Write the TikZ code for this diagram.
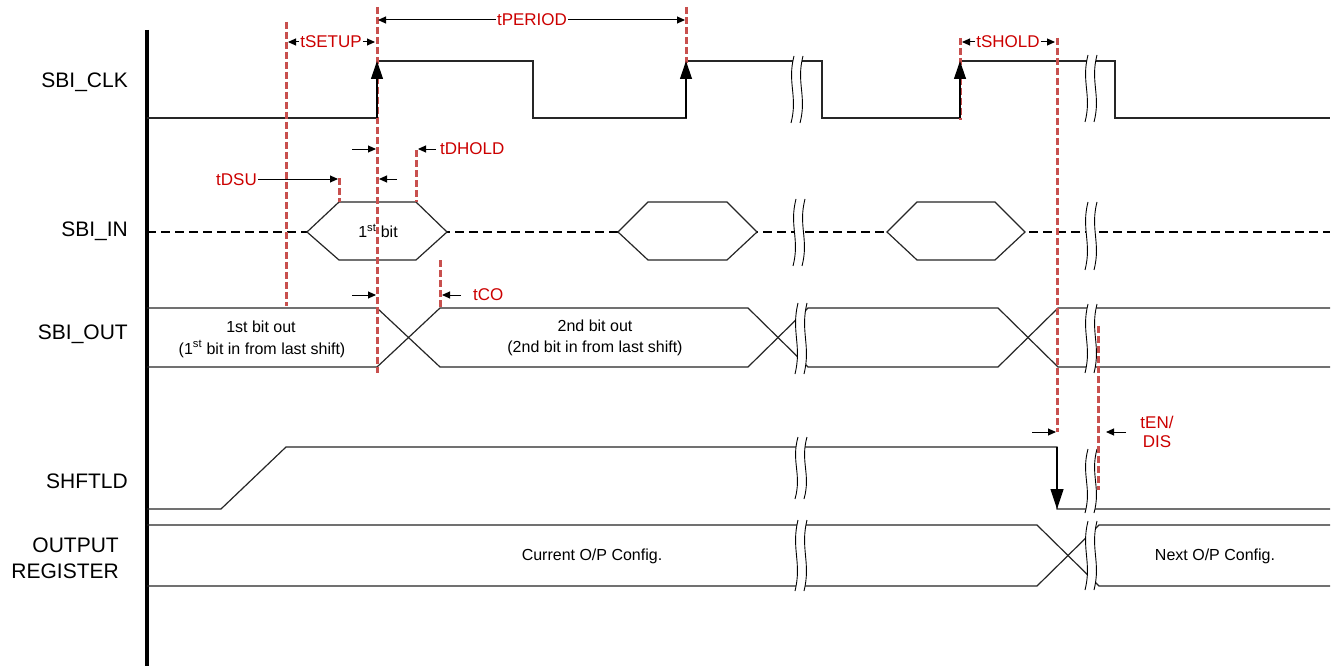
\documentclass[tikz,border=0pt]{standalone}
\usepackage{fontspec}
\setmainfont{Liberation Sans}
\usetikzlibrary{arrows.meta}
\definecolor{tred}{RGB}{204,0,0}
\definecolor{dred}{RGB}{200,80,78}
\newcommand{\mybreak}[3]{%
  \pgfmathsetmacro{\bh}{#3-#2}%
  \fill[white] ({#1+3},#2) .. controls ({#1-4},{#2+0.4*\bh}) and ({#1+7},{#2+0.6*\bh}) .. ({#1},#3) -- ({#1+9},#3) .. controls ({#1+16},{#2+0.6*\bh}) and ({#1+5},{#2+0.4*\bh}) .. ({#1+12},#2) -- cycle;
  \draw[line width=0.9pt] ({#1+3},#2) .. controls ({#1-4},{#2+0.4*\bh}) and ({#1+7},{#2+0.6*\bh}) .. ({#1},#3);
  \draw[line width=0.9pt] ({#1+12},#2) .. controls ({#1+5},{#2+0.4*\bh}) and ({#1+16},{#2+0.6*\bh}) .. ({#1+9},#3);
}
\begin{document}
\begin{tikzpicture}[x=1pt,y=-1pt,
  sig/.style={line width=1.2pt, draw=black!85},
  axisline/.style={line width=4pt},
  tline/.style={draw=dred, line width=3pt, dash pattern=on 7pt off 3pt},
  dim/.style={line width=1pt, -{Triangle[length=8pt,width=7pt]}},
  dimlbl/.style={text=tred, font=\fontsize{17}{20}\selectfont, inner sep=1pt},
  signame/.style={font=\fontsize{21}{26}\selectfont, anchor=east, inner sep=0pt},
  txt/.style={font=\fontsize{16}{19}\selectfont, inner sep=0pt},
  edgearrow/.style={line width=1.2pt, -{Triangle[length=18pt,width=12pt]}},
]
\useasboundingbox (0,0) rectangle (1335,666);
\fill[white] (0,0) rectangle (1335,666);

% axis
\draw[axisline] (147,30) -- (147,666);

% SBI_CLK
\draw[sig] (147,118) -- (377,118) -- (377,61) -- (533,61) -- (533,118) -- (686,118) -- (686,61) -- (822,61) -- (822,118) -- (960,118) -- (960,61) -- (1115,61) -- (1115,118) -- (1330,118);

% SBI_IN
\draw[line width=2.2pt, dash pattern=on 9pt off 5pt] (147,232) -- (1330,232);
\draw[sig, fill=white] (307,232) -- (339,202) -- (416,202) -- (447,232) -- (416,260) -- (339,260) -- cycle;
\draw[sig, fill=white] (618,232) -- (648,202) -- (727,202) -- (757,232) -- (727,260) -- (648,260) -- cycle;
\draw[sig, fill=white] (887,232) -- (917,202) -- (995,202) -- (1025,232) -- (995,260) -- (917,260) -- cycle;

% SBI_OUT
\draw[sig] (147,308) -- (377,308) -- (440,367) -- (748,367) -- (808,308) -- (998,308) -- (1058,367) -- (1330,367);
\draw[sig] (147,367) -- (377,367) -- (440,308) -- (748,308) -- (808,367) -- (998,367) -- (1058,308) -- (1330,308);

% SHFTLD
\draw[sig] (147,509) -- (221,509) -- (286,447) -- (1057,447) -- (1057,509) -- (1330,509);

% OUTPUT REGISTER
\draw[sig] (147,525) -- (1037,525) -- (1099,586) -- (1330,586);
\draw[sig] (147,586) -- (1037,586) -- (1099,525) -- (1330,525);

% breaks
\mybreak{791}{56}{123}
\mybreak{793}{199}{266}
\mybreak{795}{303}{374}
\mybreak{795}{437}{499}
\mybreak{795}{520}{591}
\mybreak{1085}{55}{122}
\mybreak{1085}{202}{270}
\mybreak{1085}{304}{373}
\mybreak{1085}{449}{513}
\mybreak{1085}{521}{590}

% timing reference lines
\draw[tline] (286,22) -- (286,306);
\draw[tline] (377,7) -- (377,373);
\draw[tline] (686,7) -- (686,63);
\draw[tline] (960,38) -- (960,120);
\draw[tline] (1057,38) -- (1057,432);
\draw[tline] (1098,326) -- (1098,490);
\draw[tline] (339,178) -- (339,202);
\draw[tline] (416,150) -- (416,202);
\draw[tline] (440,260) -- (440,308);

% clock edge arrows
\coordinate (e1a) at (377,118); \coordinate (e1b) at (377,61);
\coordinate (e2a) at (686,118); \coordinate (e2b) at (686,61);
\coordinate (e3a) at (960,118); \coordinate (e3b) at (960,61);
\draw[edgearrow] (e1a) -- (e1b);
\draw[edgearrow] (e2a) -- (e2b);
\draw[edgearrow] (e3a) -- (e3b);
\coordinate (s1a) at (1057,447); \coordinate (s1b) at (1057,509);
\draw[line width=1.2pt, -{Triangle[length=20pt,width=13pt]}] (s1a) -- (s1b);

% dimension labels
\node[dimlbl, fill=white] (tper) at (532,20) {tPERIOD};
\coordinate (tperL) at (378,20); \coordinate (tperR) at (685,20);
\draw[dim] (tper.west) -- (tperL);
\draw[dim] (tper.east) -- (tperR);
\node[dimlbl, fill=white] (tset) at (331,42) {tSETUP};
\coordinate (tsetL) at (288,42); \coordinate (tsetR) at (375,42);
\draw[dim] (tset.west) -- (tsetL);
\draw[dim] (tset.east) -- (tsetR);
\node[dimlbl, fill=white] (tsh) at (1008,42) {tSHOLD};
\coordinate (tshL) at (962,42); \coordinate (tshR) at (1055,42);
\draw[dim] (tsh.west) -- (tshL);
\draw[dim] (tsh.east) -- (tshR);

\coordinate (h1a) at (352,149); \coordinate (h1b) at (376,149);
\coordinate (h2a) at (436,149); \coordinate (h2b) at (418,149);
\draw[dim] (h1a) -- (h1b);
\draw[dim] (h2a) -- (h2b);
\node[dimlbl, anchor=west] (tdh) at (439,149) {tDHOLD};

\node[dimlbl, anchor=east] (tdsu) at (258,180) {tDSU};
\coordinate (dsuR) at (338,179);
\draw[dim] (tdsu.east |- dsuR) -- (dsuR);
\coordinate (d2a) at (397,179); \coordinate (d2b) at (379,179);
\draw[dim] (d2a) -- (d2b);

\coordinate (c1a) at (352,295); \coordinate (c1b) at (376,295);
\coordinate (c2a) at (461,295); \coordinate (c2b) at (442,295);
\draw[dim] (c1a) -- (c1b);
\draw[dim] (c2a) -- (c2b);
\node[dimlbl, anchor=west] (tco) at (472,295) {tCO};

\coordinate (n1a) at (1032,432); \coordinate (n1b) at (1056,432);
\coordinate (n2a) at (1126,432); \coordinate (n2b) at (1106,432);
\draw[dim] (n1a) -- (n1b);
\draw[dim] (n2a) -- (n2b);
\node[dimlbl, align=center, font=\fontsize{17}{19}\selectfont] (ten) at (1157,432) {tEN/\\DIS};

% signal names
\node[signame] (lclk) at (128,82) {SBI\_CLK};
\node[signame] (lin) at (128,231) {SBI\_IN};
\node[signame] (lout) at (128,334) {SBI\_OUT};
\node[signame] (lsh) at (128,481) {SHFTLD};
\node[signame, align=right] (lreg) at (119,558) {OUTPUT\\REGISTER};

% texts
\node[txt] (b1) at (378,231) {1\textsuperscript{st} bit};
\node[txt] (o1a) at (261,327) {1st bit out};
\node[txt] (o1b) at (262,349) {(1\textsuperscript{st} bit in from last shift)};
\node[txt] (o2a) at (595,326) {2nd bit out};
\node[txt] (o2b) at (595,348) {(2nd bit in from last shift)};
\node[txt] (cur) at (592,556) {Current O/P Config.};
\node[txt] (nxt) at (1215,556) {Next O/P Config.};
\end{tikzpicture}
\end{document}
